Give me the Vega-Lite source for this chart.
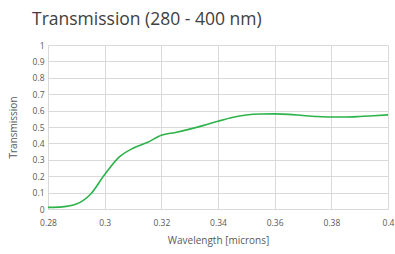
{
  "$schema": "https://vega.github.io/schema/vega-lite/v6.json",
  "width": 340,
  "height": 164,
  "autosize": {"type": "none"},
  "padding": {"left": 48, "top": 45, "right": 7, "bottom": 45},
  "background": "white",
  "title": {
    "text": "Transmission (280 - 400 nm)",
    "anchor": "start",
    "frame": "group",
    "dx": -16,
    "offset": 13,
    "fontSize": 17.5,
    "fontWeight": "normal",
    "font": "Open Sans",
    "color": "#404040"
  },
  "config": {
    "view": {"stroke": null},
    "axis": {
      "labelFont": "Open Sans",
      "titleFont": "Open Sans",
      "labelFontSize": 8.5,
      "titleFontSize": 10,
      "titleFontWeight": "normal",
      "labelColor": "#595959",
      "titleColor": "#595959",
      "gridColor": "#d9d9d9",
      "gridWidth": 1,
      "domain": false,
      "ticks": false
    }
  },
  "data": {
    "values": [
      {"w": 0.28, "t": 0.01},
      {"w": 0.285, "t": 0.013},
      {"w": 0.29, "t": 0.03},
      {"w": 0.295, "t": 0.09},
      {"w": 0.30, "t": 0.21},
      {"w": 0.305, "t": 0.315},
      {"w": 0.31, "t": 0.37},
      {"w": 0.315, "t": 0.405},
      {"w": 0.32, "t": 0.45},
      {"w": 0.325, "t": 0.467},
      {"w": 0.33, "t": 0.487},
      {"w": 0.335, "t": 0.51},
      {"w": 0.34, "t": 0.535},
      {"w": 0.345, "t": 0.558},
      {"w": 0.35, "t": 0.573},
      {"w": 0.355, "t": 0.579},
      {"w": 0.36, "t": 0.58},
      {"w": 0.365, "t": 0.577},
      {"w": 0.37, "t": 0.57},
      {"w": 0.375, "t": 0.564},
      {"w": 0.38, "t": 0.561},
      {"w": 0.385, "t": 0.561},
      {"w": 0.39, "t": 0.564},
      {"w": 0.395, "t": 0.569},
      {"w": 0.40, "t": 0.574}
    ]
  },
  "mark": {"type": "line", "color": "#2db34a", "strokeWidth": 1.6, "interpolate": "monotone"},
  "encoding": {
    "x": {
      "field": "w",
      "type": "quantitative",
      "scale": {"domain": [0.28, 0.4], "nice": false, "zero": false},
      "axis": {"values": [0.28, 0.3, 0.32, 0.34, 0.36, 0.38, 0.4], "format": "~g", "title": "Wavelength [microns]", "labelPadding": 9, "titlePadding": 9, "labelFlush": false}
    },
    "y": {
      "field": "t",
      "type": "quantitative",
      "scale": {"domain": [0, 1], "nice": false},
      "axis": {"values": [0, 0.1, 0.2, 0.3, 0.4, 0.5, 0.6, 0.7, 0.8, 0.9, 1], "format": "~g", "title": "Transmission", "labelPadding": 4, "titlePadding": 14}
    }
  }
}
